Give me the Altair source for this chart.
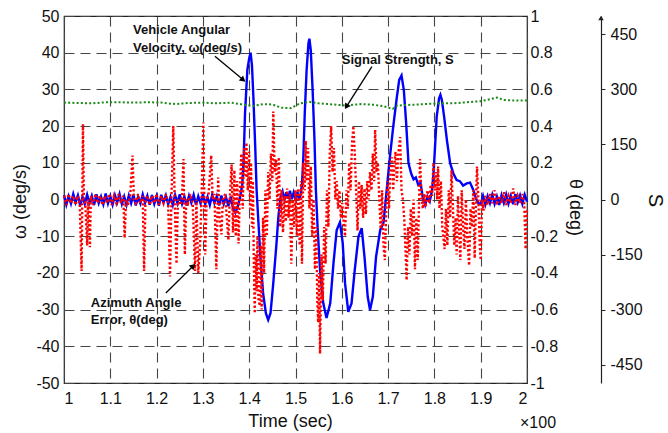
import math
import altair as alt
import pandas as pd

FONT = "Liberation Sans"

# ---------------- data ----------------
x_ticks = [1.0, 1.1, 1.2, 1.3, 1.4, 1.5, 1.6, 1.7, 1.8, 1.9, 2.0]
w_ticks = [-50, -40, -30, -20, -10, 0, 10, 20, 30, 40, 50]
th_ticks = [-1, -0.8, -0.6, -0.4, -0.2, 0, 0.2, 0.4, 0.6, 0.8, 1]
s_ticks = [-450, -300, -150, 0, 150, 300, 450]

# Vehicle angular velocity omega (deg/s), time in units of 100 s
blue_t = [
    1.000, 1.005, 1.010, 1.015, 1.020, 1.025, 1.030, 1.035, 1.040, 1.045,
    1.050, 1.055, 1.060, 1.065, 1.070, 1.075, 1.080, 1.085, 1.090, 1.095,
    1.100, 1.105, 1.110, 1.115, 1.120, 1.125, 1.130, 1.135, 1.140, 1.145,
    1.150, 1.155, 1.160, 1.165, 1.170, 1.175, 1.180, 1.185, 1.190, 1.195,
    1.200, 1.205, 1.210, 1.215, 1.220, 1.225, 1.230, 1.235, 1.240, 1.245,
    1.250, 1.255, 1.260, 1.265, 1.270, 1.275, 1.280, 1.285, 1.290, 1.295,
    1.300, 1.305, 1.310, 1.315, 1.320, 1.325, 1.330, 1.335, 1.340, 1.345,
    1.350, 1.355, 1.360, 1.365, 1.370, 1.375, 1.380,
    1.385, 1.388, 1.391, 1.396, 1.400, 1.403, 1.406, 1.409, 1.413, 1.416,
    1.420, 1.425, 1.430, 1.436, 1.441, 1.446, 1.452, 1.459, 1.463, 1.468,
    1.472, 1.476, 1.480, 1.484, 1.488, 1.492, 1.496, 1.500, 1.504, 1.508, 1.511,
    1.514, 1.517, 1.520, 1.524, 1.528, 1.530, 1.533, 1.537, 1.541, 1.544,
    1.548, 1.553, 1.560, 1.567, 1.575, 1.582, 1.589, 1.596, 1.602, 1.607,
    1.614, 1.621, 1.628, 1.636, 1.643, 1.649, 1.656, 1.661, 1.667, 1.674,
    1.683, 1.690, 1.697, 1.704, 1.711, 1.719, 1.724, 1.729, 1.734, 1.739,
    1.744, 1.750, 1.755, 1.760, 1.765, 1.770, 1.775, 1.780, 1.785, 1.790,
    1.795, 1.798, 1.801, 1.805, 1.810, 1.813, 1.816, 1.821, 1.827, 1.834,
    1.841, 1.848, 1.855, 1.862, 1.870, 1.877, 1.884, 1.890, 1.895, 1.900,
    1.905, 1.910, 1.915, 1.920, 1.925, 1.930, 1.935, 1.940, 1.945, 1.950,
    1.955, 1.960, 1.965, 1.970, 1.975, 1.980, 1.985, 1.990, 1.995, 2.000,
]
blue_w = [
    1.2, -1.4, 0.9, -1.1, 1.5, -0.8, 1.1, -1.6, 0.7, -1.2,
    1.3, -0.9, 1.0, -1.5, 1.4, -1.0, 0.8, -1.3, 1.6, -1.1,
    0.9, -1.4, 1.2, -0.7, 1.5, -1.2, 0.8, -1.5, 1.1, -1.0,
    1.3, -1.6, 0.6, -1.1, 1.4, -0.9, 1.0, -1.4, 1.2, -1.2,
    0.9, -1.7, 1.3, -0.8, 1.1, -1.3, 0.7, -1.5, 1.2, -1.0,
    1.4, -1.2, 0.8, -1.6, 1.0, -0.9, 1.3, -1.4, 0.9, -1.1,
    1.5, -1.3, 0.7, -1.5, 1.2, -1.0, 0.9, -1.6, 1.1, -1.2,
    0.6, -1.8, 0.8, -2.5, -3.6, -2.0, 0.5,
    4.0, 11.0, 23.5, 35.3, 38.5, 40.0, 36.5, 28.0, 14.4, 2.6,
    -6.4, -17.3, -25.5, -31.0, -32.8, -31.0, -22.8, -11.9, -4.7, 0.8,
    2.2, -0.3, 2.0, 0.2, 2.4, 0.1, 1.9, 0.0, 2.1, -0.2, 1.5,
    4.0, 11.7, 23.5, 35.3, 42.6, 43.8, 40.7, 29.8, 16.2, 2.6,
    -8.3, -19.2, -28.3, -32.3, -28.3, -17.4, -8.3, -6.2, -11.9, -22.8,
    -30.6, -28.3, -19.2, -10.1, -7.8, -15.6, -26.5, -30.1, -26.5, -15.6,
    -8.3, -6.4, 2.6, 11.7, 19.8, 28.0, 32.6, 33.8, 29.8, 20.8,
    9.9, 7.0, 5.5, 6.0, 4.0, 4.5, 0.5, -1.5, 0.8, -0.5,
    2.5, 7.0, 13.5, 22.6, 27.5, 28.5, 27.2, 22.6, 16.2, 9.9,
    7.1, 5.3, 5.0, 3.8, 4.4, 4.6, 2.6, 0.2, -1.0, -1.3,
    1.0, -1.4, 0.9, -1.0, 1.3, -1.2, 0.8, -1.5, 1.2, -0.9,
    1.4, -1.1, 1.0, -1.3, 1.5, -0.8, 1.1, -1.2, 1.3, -0.6,
]

# Azimuth angle error theta (deg)
red_t = [
    1.000, 1.005, 1.010, 1.015, 1.020, 1.025, 1.030, 1.034, 1.038, 1.041,
    1.043, 1.046, 1.050, 1.052, 1.056, 1.058, 1.063, 1.068, 1.073, 1.078,
    1.083, 1.088, 1.093, 1.098, 1.103, 1.108, 1.113, 1.118, 1.123, 1.128,
    1.131, 1.134, 1.138, 1.143, 1.148, 1.151, 1.155, 1.160, 1.165, 1.170,
    1.173, 1.176, 1.180, 1.185, 1.190, 1.195, 1.200, 1.205, 1.210, 1.215,
    1.220, 1.225, 1.229, 1.232, 1.236, 1.239, 1.243, 1.246, 1.251, 1.255,
    1.258, 1.261, 1.264, 1.268, 1.273, 1.278, 1.283, 1.286, 1.290, 1.294,
    1.297, 1.301, 1.303, 1.305, 1.308, 1.312, 1.318, 1.321, 1.325, 1.329,
    1.333, 1.336, 1.340, 1.343, 1.348, 1.355, 1.358, 1.362, 1.365, 1.368,
    1.371, 1.374, 1.377, 1.380,
    1.383, 1.386, 1.389, 1.392, 1.394, 1.397, 1.400, 1.402, 1.404, 1.406,
    1.408, 1.410, 1.412, 1.414, 1.416, 1.418, 1.420, 1.423, 1.425, 1.427,
    1.430, 1.432, 1.435, 1.438, 1.441, 1.444, 1.447, 1.450, 1.452, 1.455,
    1.458, 1.461, 1.464, 1.467, 1.470, 1.473, 1.476, 1.479, 1.482, 1.485,
    1.488, 1.491, 1.494, 1.497, 1.500, 1.503, 1.506, 1.509, 1.512, 1.514,
    1.517, 1.520, 1.522, 1.524, 1.527, 1.530, 1.533, 1.536, 1.539, 1.542,
    1.545, 1.547, 1.549, 1.551, 1.553, 1.556, 1.559, 1.562, 1.565, 1.568,
    1.571, 1.574, 1.577, 1.580, 1.583, 1.586, 1.589, 1.592, 1.595, 1.598,
    1.601, 1.604, 1.607, 1.610, 1.613, 1.616, 1.619, 1.622, 1.625, 1.628,
    1.631, 1.634, 1.637, 1.640, 1.643, 1.646, 1.649, 1.652, 1.655, 1.658,
    1.661, 1.664, 1.667, 1.670, 1.672, 1.675, 1.678, 1.681, 1.684, 1.687,
    1.690, 1.693, 1.696, 1.699, 1.702, 1.705, 1.708, 1.711, 1.714, 1.716,
    1.719, 1.722, 1.726, 1.729, 1.732, 1.735, 1.738, 1.740, 1.743, 1.746,
    1.749, 1.752, 1.755, 1.758, 1.761, 1.764, 1.767, 1.769, 1.772, 1.775,
    1.778, 1.781, 1.785, 1.789, 1.792, 1.795, 1.798, 1.801, 1.804, 1.806,
    1.808, 1.811, 1.814, 1.817, 1.820, 1.822, 1.825, 1.828, 1.831, 1.834,
    1.837, 1.840, 1.843, 1.846, 1.848, 1.851, 1.854, 1.856, 1.859, 1.862,
    1.865, 1.868, 1.871, 1.875, 1.878, 1.881, 1.884, 1.887, 1.890, 1.892,
    1.895, 1.898, 1.900, 1.903, 1.906,
    1.910, 1.915, 1.920, 1.925, 1.930, 1.935, 1.940, 1.945, 1.950, 1.955,
    1.960, 1.965, 1.970, 1.975, 1.980, 1.985, 1.990, 1.994, 1.997, 2.000,
]
red_th = [
    0.02, -0.03, 0.03, -0.02, 0.02, -0.03, 0.02, -0.02, -0.39, 0.41,
    0.00, -0.02, -0.25, 0.00, -0.26, 0.02, -0.03, 0.03, -0.02, 0.02,
    -0.03, 0.02, -0.02, 0.03, -0.03, 0.02, -0.02, 0.03, -0.02, 0.02,
    -0.21, 0.00, -0.03, 0.02, 0.24, 0.00, -0.02, 0.03, -0.02, 0.02,
    -0.39, 0.00, 0.02, -0.03, 0.02, -0.02, 0.03, -0.03, 0.02, -0.02,
    0.03, -0.02, -0.42, 0.00, 0.40, 0.00, -0.35, 0.00, -0.03, 0.02,
    0.22, -0.30, 0.00, -0.02, 0.03, -0.02, -0.39, 0.00, -0.40, -0.24,
    0.00, 0.42, 0.00, -0.30, 0.00, 0.02, 0.24, 0.00, 0.03, -0.38,
    0.12, -0.10, -0.19, 0.00, 0.03, -0.22, 0.00, 0.19, -0.18, 0.16,
    -0.20, 0.10, -0.24, 0.06,
    0.25, -0.05, 0.28, 0.12, 0.31, 0.05, 0.26, -0.05, 0.20, -0.15,
    0.10, -0.35, -0.62, -0.30, -0.50, -0.20, -0.55, -0.58, -0.25, -0.60,
    -0.10, -0.40, 0.05, -0.20, 0.15, 0.00, 0.25, 0.10, 0.48, 0.15,
    0.22, -0.05, 0.23, -0.15, 0.05, -0.18, 0.02, -0.12, 0.06, -0.10,
    0.03, -0.35, 0.00, -0.15, 0.05, -0.20, 0.06, -0.25, 0.10, -0.35,
    0.20, 0.05, 0.32, 0.10, 0.28, -0.05, 0.18, -0.20, 0.00, -0.38,
    -0.15, -0.55, -0.67, -0.40, -0.84, -0.30, -0.55, -0.15, -0.35, 0.05,
    -0.15, 0.25, 0.40, 0.15, 0.28, 0.00, 0.10, -0.05, 0.05, -0.10,
    -0.02, -0.12, -0.20, 0.05, -0.05, 0.20, 0.05, 0.30, 0.40, 0.25,
    0.05, -0.17, 0.10, -0.05, 0.08, -0.10, 0.06, -0.08, 0.10, 0.00,
    0.15, 0.05, 0.25, 0.10, 0.38, 0.15, 0.20, 0.00, -0.16, 0.05,
    -0.25, -0.33, -0.05, 0.10, -0.05, 0.20, 0.23, 0.05, 0.20, 0.26,
    0.10, 0.25, 0.34, 0.05, 0.00, -0.11, -0.30, -0.44, -0.15, -0.30,
    -0.05, -0.20, 0.00, -0.38, -0.10, -0.33, 0.00, 0.22, 0.02, -0.05,
    0.03, -0.04, 0.05, -0.02, 0.08, 0.02, 0.20, 0.05, 0.15, 0.00,
    0.18, -0.05, 0.10, -0.15, -0.22, -0.27, -0.05, -0.25, 0.05, -0.10,
    0.16, -0.05, -0.25, -0.10, -0.30, 0.02, -0.20, -0.33, 0.05, -0.15,
    -0.27, 0.00, -0.20, -0.36, -0.05, -0.15, 0.05, -0.32, 0.00, 0.18,
    0.00, -0.25, -0.33, 0.00, -0.06,
    0.02, -0.03, 0.03, -0.02, 0.05, -0.03, 0.02, -0.02, 0.04, -0.03,
    0.02, -0.02, 0.06, -0.03, 0.02, -0.02, 0.03, -0.02, -0.27, -0.05,
]

# Signal strength S
green_t = [1.00, 1.03, 1.06, 1.09, 1.12, 1.15, 1.18, 1.21, 1.24, 1.27,
           1.30, 1.33, 1.36, 1.39, 1.41, 1.43, 1.45, 1.47, 1.49, 1.51,
           1.53, 1.55, 1.58, 1.61, 1.64, 1.67, 1.69, 1.71, 1.72, 1.75,
           1.78, 1.81, 1.84, 1.87, 1.90, 1.92, 1.935, 1.95, 1.97, 2.00]
green_s = [264, 263, 262, 265, 265, 264, 265, 264, 260, 263,
           264, 262, 264, 258, 255, 260, 259, 250, 249, 262,
           266, 262, 259, 256, 260, 258, 254, 247, 256, 258,
           260, 262, 262, 265, 268, 273, 278, 271, 270, 270]

# annotations (time, omega)
note_text = ["Vehicle Angular", "Velocity, ω(deg/s)", "Signal Strength, S",
             "Azimuth Angle", "Error, θ(deg)"]
note_t = [1.149, 1.149, 1.600, 1.058, 1.058]
note_w = [46.2, 41.3, 38.0, -28.1, -32.8]

arrow_t0 = [1.326, 1.665, 1.220]
arrow_w0 = [39.0, 36.2, -25.5]
arrow_t1 = [1.387, 1.610, 1.279]
arrow_w1 = [32.6, 25.3, -18.1]

assert len(blue_t) == len(blue_w)
assert len(red_t) == len(red_th)
assert len(green_t) == len(green_s)

W, H = 463, 367

df_blue = pd.DataFrame({"t": blue_t, "w": blue_w})
df_red = pd.DataFrame({"t": red_t, "th": red_th})
df_green = pd.DataFrame({"t": green_t, "s": green_s})
df_note = pd.DataFrame({"t": note_t, "w": note_w, "label": note_text})
df_arrow = pd.DataFrame({"t": arrow_t0, "w": arrow_w0, "t2": arrow_t1, "w2": arrow_w1})
df_arrow["ang"] = [
    math.degrees(math.atan2((b - a) * W, (d - c) * H / 100.0)) % 360
    for a, b, c, d in zip(arrow_t0, arrow_t1, arrow_w0, arrow_w1)
]

xscale = alt.Scale(domain=[1, 2], nice=False, zero=False)
wscale = alt.Scale(domain=[-50, 50], nice=False, zero=False)

x_axis = alt.Axis(
    values=x_ticks, labelExpr="'' + datum.value", title="Time (sec)",
    grid=True, gridDash=[10, 6], gridColor="#444", gridWidth=1.1, gridOpacity=1,
    ticks=False, domain=False, labelFontSize=16, labelPadding=7,
    titleFontSize=18, titleFontWeight="normal", titleX=226, titleY=38,
    titleBaseline="middle", titleAlign="center",
)
x_enc = alt.X("t:Q", scale=xscale, axis=x_axis)

blue = alt.Chart(df_blue).mark_line(color="#0000ff", strokeWidth=2.4).encode(
    x=x_enc,
    y=alt.Y("w:Q", scale=wscale, axis=alt.Axis(
        values=w_ticks, labelExpr="'' + datum.value", title="ω (deg/s)",
        grid=True, gridDash=[10, 6], gridColor="#444", gridWidth=1.1, gridOpacity=1,
        ticks=False, domain=False, labelFontSize=16, labelPadding=5,
        titleFontSize=18, titleFontWeight="normal", titleAngle=-90,
        titleX=-44, titleY=185, titleAlign="center", titleBaseline="middle",
    )),
)

red = alt.Chart(df_red).mark_line(
    color="#ff0000", strokeWidth=2.4, strokeDash=[2.2, 2.2]
).encode(
    x=x_enc,
    y=alt.Y("th:Q", scale=alt.Scale(domain=[-1, 1], nice=False, zero=False), axis=alt.Axis(
        orient="right", values=th_ticks, labelExpr="'' + datum.value", title="θ (deg)",
        grid=False, ticks=False, domain=False, labelFontSize=16, labelPadding=3,
        titleFontSize=18, titleFontWeight="normal", titleAngle=90,
        titleX=47, titleY=191, titleAlign="center", titleBaseline="middle",
    )),
)

green = alt.Chart(df_green).mark_line(
    color="#1a8a1a", strokeWidth=2, strokeDash=[2, 2.2]
).encode(
    x=x_enc,
    y=alt.Y("s:Q", scale=alt.Scale(domain=[-500, 500], nice=False, zero=False), axis=alt.Axis(
        orient="right", offset=74, values=s_ticks, labelExpr="'' + datum.value", title="S",
        grid=False, ticks=True, tickSize=4, tickColor="#222", domain=True,
        domainColor="#222", domainWidth=1.2, labelFontSize=16, labelPadding=5,
        titleFontSize=20, titleFontWeight="normal", titleAngle=90,
        titleX=53, titleY=184, titleAlign="center", titleBaseline="middle",
    )),
)

yann = alt.Y("w:Q", scale=wscale, axis=None)

shafts = alt.Chart(df_arrow).mark_rule(color="#000", strokeWidth=1.3).encode(
    x=x_enc, y=yann, x2="t2:Q", y2="w2:Q"
)
heads = alt.Chart(df_arrow).mark_point(
    shape="triangle-up", filled=True, color="#000", size=45, opacity=1
).encode(
    x=alt.X("t2:Q", scale=xscale, axis=x_axis),
    y=alt.Y("w2:Q", scale=wscale, axis=None),
    angle=alt.Angle("ang:Q", scale=None),
)
notes = alt.Chart(df_note).mark_text(
    align="left", baseline="middle", fontWeight="bold", fontSize=13, font=FONT, color="#111"
).encode(x=x_enc, y=yann, text="label:N")

one = pd.DataFrame({"k": [0]})
s_arrow = alt.Chart(one).mark_point(
    shape="triangle-up", filled=True, color="#222", size=30, opacity=1
).encode(x=alt.value(W + 74), y=alt.value(2))
times100 = alt.Chart(one).mark_text(
    text="×100", fontSize=16, font=FONT, color="#111", align="center", baseline="middle"
).encode(x=alt.value(474), y=alt.value(407))

chart = alt.layer(
    blue, red, green, shafts, heads, notes, s_arrow, times100
).resolve_scale(y="independent").properties(
    width=W, height=H,
    autosize=alt.AutoSizeParams(type="none"),
    padding={"left": 64, "top": 16, "right": 141, "bottom": 50},
    background="white",
).configure_view(
    stroke="#222", strokeWidth=1.2
).configure_axis(
    labelFont=FONT, titleFont=FONT, labelColor="#111", titleColor="#111"
)

chart.save("out.html", embed_options={"renderer": "svg", "actions": False})
